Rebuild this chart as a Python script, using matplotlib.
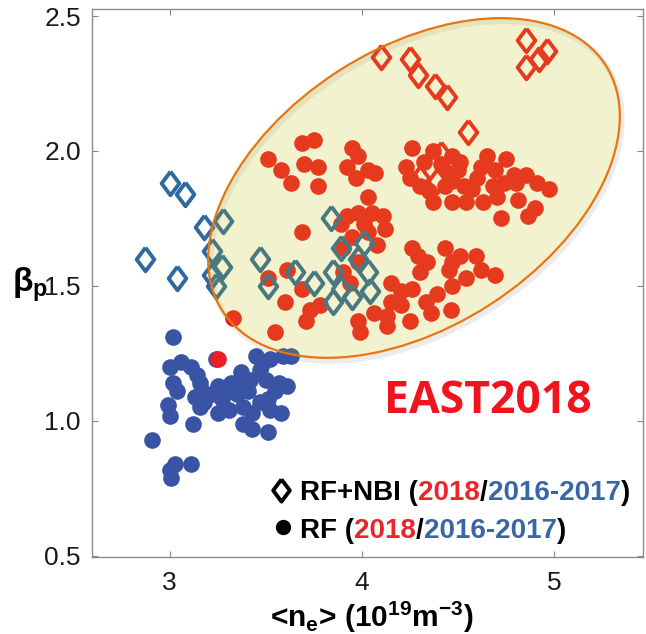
import numpy as np
import matplotlib
matplotlib.use("Agg")
import matplotlib.pyplot as plt
from matplotlib.patches import Ellipse

plt.rcParams['font.family'] = ['Liberation Sans', 'DejaVu Sans']
plt.rcParams['mathtext.fontset'] = 'custom'
plt.rcParams['mathtext.rm'] = 'Liberation Sans:bold'
plt.rcParams['mathtext.it'] = 'Liberation Sans:bold'
plt.rcParams['mathtext.bf'] = 'Liberation Sans:bold'

# RF+NBI 2016-2017 (blue diamonds)
nbi_old_x = [2.87, 3.00, 3.08, 3.18, 3.28, 3.04, 3.22, 3.27, 3.22, 3.24, 3.47, 3.65,
             3.51, 3.75, 3.84, 3.89, 4.01, 3.85, 3.89, 4.03, 4.04, 3.85, 3.95, 3.98]
nbi_old_y = [1.60, 1.88, 1.84, 1.72, 1.74, 1.53, 1.63, 1.57, 1.54, 1.50, 1.60, 1.55,
             1.50, 1.51, 1.75, 1.64, 1.66, 1.55, 1.49, 1.55, 1.48, 1.44, 1.46, 1.60]

# RF+NBI 2018 (red diamonds)
nbi_new_x = [4.10, 4.25, 4.29, 4.38, 4.44, 4.85, 4.85, 4.92, 4.96, 4.55, 4.41, 4.30, 4.39]
nbi_new_y = [2.35, 2.34, 2.28, 2.24, 2.20, 2.41, 2.31, 2.34, 2.37, 2.07, 1.99, 1.90, 1.89]

# RF 2016-2017 (blue dots)
rf_old_x = [3.02, 3.00, 3.06, 3.11, 3.14, 3.02, 3.04, 3.16, 3.17, 3.13, 3.18, 3.16,
            3.25, 3.24, 3.30, 3.37, 3.37, 3.35, 3.41, 3.47, 3.45, 3.52, 3.59, 3.63,
            3.57, 3.61, 3.55, 3.51, 3.52, 3.58, 3.47, 3.43, 3.38, 3.31, 3.25, 3.38,
            3.43, 3.51, 2.99, 3.00, 3.12, 2.91, 3.03, 3.11, 3.00, 3.01, 3.48, 3.22,
            3.27, 3.32, 3.42, 3.50]
rf_old_y = [1.31, 1.20, 1.22, 1.20, 1.17, 1.14, 1.11, 1.14, 1.11, 1.09, 1.07, 1.05,
            1.13, 1.23, 1.11, 1.18, 1.15, 1.10, 1.11, 1.19, 1.24, 1.23, 1.24, 1.24,
            1.14, 1.13, 1.11, 1.08, 1.04, 1.03, 1.07, 1.03, 1.05, 1.04, 1.03, 0.99,
            0.97, 0.96, 1.06, 1.02, 0.99, 0.93, 0.84, 0.84, 0.82, 0.79, 1.21, 1.10,
            1.08, 1.14, 1.15, 1.15]

# RF 2018 (red dots)
rf_new_x = [3.51, 3.58, 3.63, 3.69, 3.75, 3.70, 3.77, 3.77,
            3.95, 3.98, 3.92, 3.97, 4.03, 4.07,
            4.26, 4.37, 4.23, 4.32, 4.25, 4.35, 4.37, 4.47, 4.45, 4.47, 4.51, 4.47,
            4.53, 4.57, 4.65, 4.62, 4.69, 4.79, 4.74, 4.80, 4.91, 4.97, 4.63, 4.72,
            4.81, 4.90, 4.86, 4.30, 4.41, 4.43, 4.50, 4.60, 4.68, 4.70, 4.75, 4.85,
            4.54,
            4.03, 3.92, 3.98, 4.05, 4.11, 4.01, 3.95, 3.90, 4.08, 3.98, 3.90, 3.94,
            3.69, 3.73, 3.98, 3.99, 3.61, 3.51, 3.69, 3.60, 3.33, 3.55, 3.71,
            3.89, 4.03, 4.12, 3.78,
            4.26, 4.29, 4.34, 4.30, 4.43, 4.51, 4.47, 4.45, 4.59, 4.62, 4.69, 4.15,
            4.20, 4.15, 4.20, 4.33, 4.39, 4.47, 4.46, 4.25, 4.13, 4.13, 4.06,
            4.36, 4.54, 4.26,
            3.25]
rf_new_y = [1.97, 1.93, 1.88, 2.03, 2.04, 1.95, 1.94, 1.87,
            2.01, 1.98, 1.94, 1.90, 1.93, 1.92,
            2.01, 2.00, 1.94, 1.96, 1.90, 1.85, 1.81, 1.81, 1.92, 1.98, 1.96, 1.89,
            1.87, 1.86, 1.98, 1.94, 1.93, 1.91, 1.88, 1.88, 1.88, 1.86, 1.81, 1.75,
            1.82, 1.79, 1.76, 1.87, 1.95, 1.87, 1.93, 1.90, 1.87, 1.83, 1.97, 1.91,
            1.81,
            1.83, 1.76, 1.77, 1.77, 1.76, 1.73, 1.68, 1.64, 1.65, 1.59, 1.55, 1.51,
            1.70, 1.41, 1.37, 1.33, 1.56, 1.53, 1.49, 1.44, 1.38, 1.33, 1.37,
            1.73, 1.70, 1.71, 1.43,
            1.64, 1.61, 1.59, 1.55, 1.64, 1.61, 1.59, 1.56, 1.61, 1.56, 1.54, 1.51,
            1.48, 1.44, 1.43, 1.44, 1.47, 1.50, 1.41, 1.37, 1.35, 1.39, 1.40,
            1.40, 1.53, 1.49,
            1.23]

red = '#ee1c25'
blue_d = '#2d6aa0'
blue_c = '#3953a5'
diamond = [(0, 1), (0.75, 0), (0, -1), (-0.75, 0), (0, 1)]

fig = plt.figure(figsize=(6.46, 6.34), dpi=100)
ax = fig.add_axes([92/646, 1 - 557/634, 551/646, 548/634])

ax.plot(rf_old_x, rf_old_y, 'o', color=blue_c, ms=12, mec='none', zorder=2)
ax.plot(rf_new_x, rf_new_y, 'o', color=red, ms=12, mec='none', zorder=2)
ax.plot(nbi_old_x, nbi_old_y, ls='none', marker=diamond, ms=17, mfc='none',
        mec=blue_d, mew=2.8, zorder=2)
ax.plot(nbi_new_x, nbi_new_y, ls='none', marker=diamond, ms=17, mfc='none',
        mec=red, mew=2.8, zorder=2)

# highlight ellipse (semi transparent overlay + soft shadow)
ecx, ecy, ew, eh, ang = 0.5844, 0.6734, 0.8276, 0.5073, 33
ax.add_patch(Ellipse((ecx + 0.004, ecy - 0.006), ew, eh, angle=ang, transform=ax.transAxes,
                     fc='none', ec='#999999', lw=4, alpha=0.18, zorder=1.5))
ax.add_patch(Ellipse((ecx, ecy), ew, eh, angle=ang, transform=ax.transAxes,
                     fc=(0.75, 0.75, 0.0, 0.19), ec='none', zorder=3))
ax.add_patch(Ellipse((ecx, ecy), ew, eh, angle=ang, transform=ax.transAxes,
                     fc='none', ec='#e8760f', lw=1.6, zorder=4))

ax.set_xlim(2.597, 5.46)
ax.set_ylim(0.496, 2.526)
ax.set_xticks([3, 4, 5])
ax.set_yticks([0.5, 1.0, 1.5, 2.0, 2.5])
ax.set_yticklabels(['0.5', '1.0', '1.5', '2.0', '2.5'])
ax.tick_params(direction='in', length=4, width=0.8, color='#888888', labelsize=19,
               top=True, right=True, labelcolor='#1a1a1a')
ax.tick_params(axis='x', pad=10)
ax.tick_params(axis='y', pad=8)
for s in ax.spines.values():
    s.set_color('#8c8c8c')
    s.set_linewidth(1.0)

fig.text(372/646, 1 - 627/634, '<n$_{\\rm e}$> (10$^{19}$m$^{-3}$)', ha='center',
         va='baseline', fontsize=21.5, fontweight='bold')
fig.text(12/646, 1 - 292/634, 'β$_{\\rm p}$', ha='left', va='baseline',
         fontsize=24, fontweight='bold')

ax.text(0.7187, 0.2628, 'EAST2018', transform=ax.transAxes, ha='center', va='baseline',
        fontsize=32, fontweight='bold', color='#f0141e', family='Open Sans', zorder=5)

# legend with coloured years
leg_red = '#e8262b'
leg_blue = '#3a66a6'
ax.plot([0.343], [0.1223], transform=ax.transAxes, ls='none', marker=diamond, ms=16,
        mfc='none', mec='black', mew=2.8, clip_on=False)
ax.plot([0.3466], [0.0547], 'o', transform=ax.transAxes, ms=10, color='black',
        clip_on=False)


def colored_line(x, y, parts):
    t = ax.text(x, y, parts[0][0], color=parts[0][1], transform=ax.transAxes,
                fontsize=20, fontweight='bold', va='baseline')
    for s, c in parts[1:]:
        t = ax.annotate(s, xy=(1, 0), xycoords=t, color=c, fontsize=20,
                        fontweight='bold', va='bottom', ha='left')


colored_line(0.3775, 0.104, [('RF+NBI (', 'black'), ('2018', leg_red), ('/', 'black'),
                            ('2016-2017', leg_blue), (')', 'black')])
colored_line(0.3775, 0.0347, [('RF (', 'black'), ('2018', leg_red), ('/', 'black'),
                             ('2016-2017', leg_blue), (')', 'black')])

fig.savefig('out.png', dpi=100)
